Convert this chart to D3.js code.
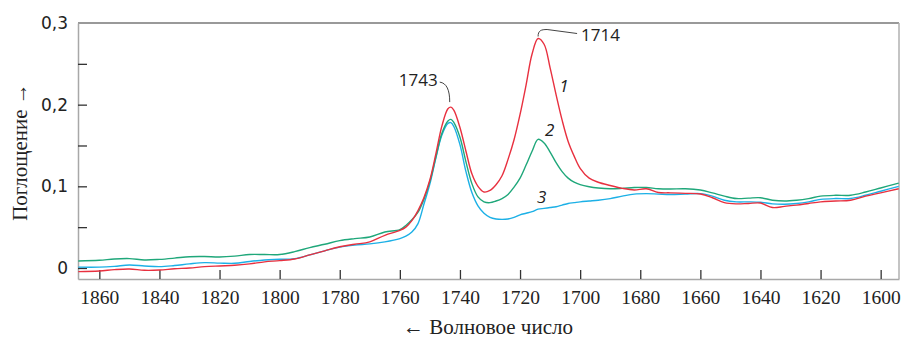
<!DOCTYPE html>
<html>
<head>
<meta charset="utf-8">
<script src="https://cdn.jsdelivr.net/npm/d3@7"></script>
<style>
  body { margin: 0; background: #fff; }
  .tick text { fill: #222; }
  .x-axis .tick text { font-family: "Liberation Serif", serif; font-size: 19.5px; }
  .y-axis .tick text { font-family: "DejaVu Sans", sans-serif; font-size: 17px; }
  .axis-title { font-family: "Liberation Serif", serif; font-size: 21px; fill: #222; }
  .peak-label { font-family: "Open Sans", sans-serif; font-size: 17px; fill: #222; }
  .curve-label { font-family: "Open Sans", sans-serif; font-size: 17px; font-style: italic; fill: #222; }
</style>
</head>
<body>
<div id="chart"></div>
<script>
// wavenumbers, cm-1 (shared grid for all three spectra)
const wavenumbers = [1867, 1860, 1855, 1850, 1845, 1840, 1835, 1830, 1825, 1820, 1815, 1810, 1805, 1800,
  1795, 1790, 1785, 1780, 1775, 1770, 1765, 1760, 1758, 1756, 1754, 1752, 1750, 1748, 1746, 1744, 1743,
  1742, 1740, 1738, 1736, 1734, 1732, 1730, 1728, 1726, 1724, 1722, 1720, 1718, 1716, 1714, 1712, 1710,
  1708, 1706, 1704, 1702, 1700, 1697, 1694, 1690, 1686, 1682, 1678, 1674, 1670, 1665, 1660, 1656, 1652,
  1648, 1644, 1640, 1636, 1632, 1628, 1624, 1620, 1615, 1610, 1605, 1600, 1594];

// curve 1 (red)
const absorbance1 = [-0.0045, -0.0037, -0.002, -0.0012, -0.0028, -0.0025, -0.001, 0.000, 0.0016, 0.0025, 0.0033, 0.005, 0.0075, 0.009,
  0.011, 0.016, 0.021, 0.026, 0.029, 0.032, 0.040, 0.046, 0.050, 0.058, 0.070, 0.086, 0.108, 0.140, 0.174, 0.195, 0.197,
  0.193, 0.172, 0.143, 0.115, 0.100, 0.093, 0.095, 0.102, 0.113, 0.133, 0.157, 0.188, 0.224, 0.262, 0.281, 0.274, 0.245,
  0.212, 0.181, 0.155, 0.137, 0.122, 0.110, 0.105, 0.101, 0.0975, 0.0955, 0.097, 0.0925, 0.092, 0.0914, 0.0906, 0.086, 0.080,
  0.0785, 0.079, 0.0795, 0.074, 0.0755, 0.077, 0.079, 0.081, 0.082, 0.083, 0.088, 0.092, 0.097];

// curve 2 (green)
const absorbance2 = [0.0086, 0.0094, 0.011, 0.0115, 0.0098, 0.0105, 0.012, 0.0138, 0.014, 0.0135, 0.0145, 0.0165, 0.0165, 0.0165,
  0.020, 0.025, 0.029, 0.0335, 0.036, 0.038, 0.044, 0.047, 0.052, 0.059, 0.068, 0.084, 0.106, 0.136, 0.165, 0.180, 0.182,
  0.178, 0.160, 0.130, 0.103, 0.087, 0.081, 0.080, 0.082, 0.085, 0.090, 0.099, 0.110, 0.126, 0.143, 0.1575, 0.153, 0.142,
  0.129, 0.118, 0.110, 0.105, 0.102, 0.0995, 0.098, 0.097, 0.0975, 0.0985, 0.0985, 0.097, 0.0967, 0.097, 0.0955, 0.092, 0.088,
  0.085, 0.0855, 0.086, 0.083, 0.082, 0.083, 0.085, 0.088, 0.089, 0.089, 0.093, 0.098, 0.104];

// curve 3 (blue)
const absorbance3 = [0.001, 0.001, 0.002, 0.0037, 0.0025, 0.0016, 0.003, 0.005, 0.0065, 0.006, 0.0057, 0.008, 0.0098, 0.0106,
  0.0115, 0.016, 0.021, 0.0255, 0.028, 0.0295, 0.032, 0.036, 0.039, 0.044, 0.054, 0.078, 0.103, 0.135, 0.163, 0.177, 0.178,
  0.173, 0.151, 0.118, 0.092, 0.076, 0.067, 0.062, 0.060, 0.0595, 0.060, 0.062, 0.065, 0.067, 0.069, 0.072, 0.073, 0.074,
  0.075, 0.077, 0.079, 0.080, 0.081, 0.082, 0.083, 0.085, 0.088, 0.0905, 0.091, 0.0905, 0.090, 0.0905, 0.091, 0.088, 0.083,
  0.081, 0.081, 0.0805, 0.0785, 0.078, 0.079, 0.081, 0.084, 0.085, 0.085, 0.089, 0.094, 0.100];

const xTicks = [1860, 1840, 1820, 1800, 1780, 1760, 1740, 1720, 1700, 1680, 1660, 1640, 1620, 1600];
const yTicks = [0, 0.05, 0.1, 0.15, 0.2, 0.25, 0.3];
const yLabelled = [0, 0.1, 0.2, 0.3];

// peak annotations and curve numbers
const peaks = [
  {label: '1743', wn: 1743.4, value: 0.197},
  {label: '1714', wn: 1714, value: 0.281}
];
const curveLabels = [
  {label: '1', wn: 1705.4, value: 0.223},
  {label: '2', wn: 1710.1, value: 0.169},
  {label: '3', wn: 1712.8, value: 0.087}
];

const config = {
  containerWidth: 902,
  containerHeight: 338,
  margin: {top: 23, right: 3, bottom: 59, left: 78}
};
const width = config.containerWidth - config.margin.left - config.margin.right;
const height = config.containerHeight - config.margin.top - config.margin.bottom;

const svg = d3.select('#chart').append('svg')
    .attr('width', config.containerWidth)
    .attr('height', config.containerHeight);

const g = svg.append('g')
    .attr('transform', `translate(${config.margin.left},${config.margin.top})`);

const xScale = d3.scaleLinear()
    .domain([1867.1, 1593.9])
    .range([0, width]);

const yScale = d3.scaleLinear()
    .domain([-0.0135, 0.3])
    .range([height, 0]);

const ru = d3.formatLocale({decimal: ',', thousands: ' ', grouping: [3], currency: ['', '']});
const fmt = d => d === 0 ? '0' : ru.format('.1f')(d);

// frame: top and right edges
g.append('line')
    .attr('x1', 0).attr('x2', width).attr('y1', 0).attr('y2', 0)
    .attr('stroke', '#777').attr('stroke-width', 1.5);
g.append('line')
    .attr('x1', width).attr('x2', width).attr('y1', 0).attr('y2', height)
    .attr('stroke', '#b0b0b0').attr('stroke-width', 1.5);

// axes
const xAxis = d3.axisBottom(xScale)
    .tickValues(xTicks)
    .tickFormat(d3.format('d'))
    .tickSizeInner(-9)
    .tickSizeOuter(0)
    .tickPadding(11);

const yAxis = d3.axisLeft(yScale)
    .tickValues(yTicks)
    .tickSizeInner(-9)
    .tickSizeOuter(0)
    .tickPadding(10)
    .tickFormat(d => yLabelled.some(v => Math.abs(v - d) < 1e-9) ? fmt(d) : '');

const xAxisG = g.append('g')
    .attr('class', 'x-axis')
    .attr('transform', `translate(0,${height})`)
    .call(xAxis);
xAxisG.select('.domain').attr('stroke', '#a8a8a8').attr('stroke-width', 1.5);
xAxisG.selectAll('.tick line').attr('stroke', '#333').attr('stroke-width', 1.3);

const yAxisG = g.append('g')
    .attr('class', 'y-axis')
    .call(yAxis);
yAxisG.select('.domain').attr('stroke', '#a8a8a8').attr('stroke-width', 1.5);
yAxisG.selectAll('.tick line').attr('stroke', '#333').attr('stroke-width', 1.3);
yAxisG.selectAll('.tick').filter(d => d === 0.3).select('line').remove();

// spectra
const series = [
  {values: absorbance1, color: '#e8303f'},
  {values: absorbance2, color: '#1fa77a'},
  {values: absorbance3, color: '#1cb0e6'}
];

const line = d3.line()
    .x(d => xScale(d[0]))
    .y(d => yScale(d[1]))
    .curve(d3.curveCatmullRom.alpha(0.5));

// draw blue first, red last so red is on top
g.append('g')
    .attr('class', 'spectra')
    .selectAll('path')
    .data(series.slice().reverse())
    .join('path')
    .attr('d', s => line(wavenumbers.map((w, i) => [w, s.values[i]])))
    .attr('fill', 'none')
    .attr('stroke', s => s.color)
    .attr('stroke-width', 1.4);

// peak annotations with leader lines
const p1 = peaks[0];
const px1 = xScale(p1.wn), py1 = yScale(p1.value);
g.append('path')
    .attr('d', `M${px1},${py1 - 5} C${px1},${py1 - 17} ${px1 - 3},${py1 - 24} ${px1 - 10},${py1 - 25}`)
    .attr('fill', 'none').attr('stroke', '#444').attr('stroke-width', 1);
g.append('text')
    .attr('class', 'peak-label')
    .attr('x', px1 - 12)
    .attr('y', py1 - 21)
    .attr('text-anchor', 'end')
    .text(p1.label);

const p2 = peaks[1];
const px2 = xScale(p2.wn), py2 = yScale(p2.value);
g.append('path')
    .attr('d', `M${px2},${py2 - 2} C${px2},${py2 - 8} ${px2 + 3},${py2 - 9} ${px2 + 9},${py2 - 9} L${px2 + 39},${py2 - 5}`)
    .attr('fill', 'none').attr('stroke', '#444').attr('stroke-width', 1);
g.append('text')
    .attr('class', 'peak-label')
    .attr('x', px2 + 43)
    .attr('y', py2 + 2)
    .text(p2.label);

// curve numbers
g.selectAll('.curve-label')
    .data(curveLabels)
    .join('text')
    .attr('class', 'curve-label')
    .attr('x', d => xScale(d.wn))
    .attr('y', d => yScale(d.value))
    .attr('text-anchor', 'middle')
    .attr('dominant-baseline', 'central')
    .text(d => d.label);

// axis titles
svg.append('text')
    .attr('class', 'axis-title')
    .attr('transform', 'translate(20,152) rotate(-90)')
    .attr('text-anchor', 'middle')
    .attr('dominant-baseline', 'central')
    .text('Поглощение →');

svg.append('text')
    .attr('class', 'axis-title')
    .attr('x', 488)
    .attr('y', 334)
    .attr('text-anchor', 'middle')
    .text('← Волновое число');
</script>
</body>
</html>
